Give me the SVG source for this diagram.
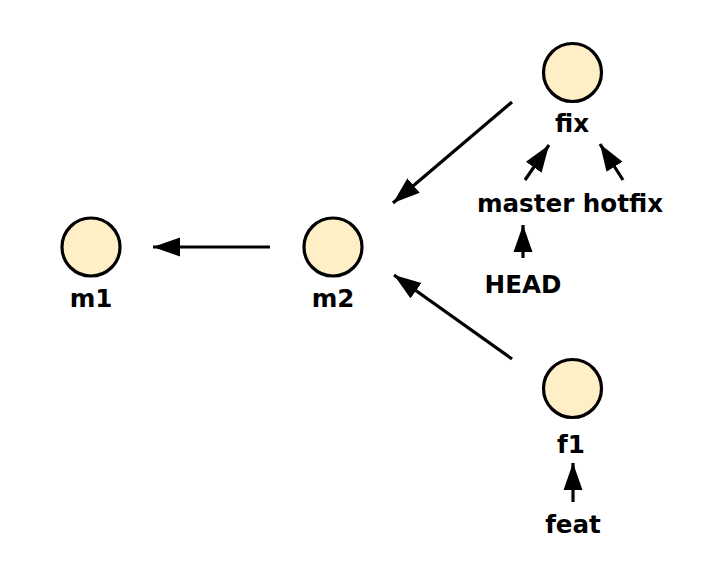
<svg xmlns="http://www.w3.org/2000/svg" width="714" height="569" viewBox="0 0 714 569">
<defs>
<style>
.node circle{fill:#feefc7;stroke:#000;stroke-width:3.2}
text{font-family:"DejaVu Sans",Verdana,sans-serif;font-weight:bold;font-size:24.6px;fill:#000;text-anchor:middle}
.edges line{stroke:#000;stroke-width:3.2;marker-end:url(#ah)}
</style>
<marker id="ah" markerUnits="userSpaceOnUse" viewBox="-27 -10 28 20" refX="0" refY="0" markerWidth="28" markerHeight="20" orient="auto">
<path d="M-27,-9.5 L0,0 L-27,9.5 z" fill="#000"/>
</marker>
</defs>
<rect width="714" height="569" fill="#fff"/>
<g class="edges">
<line x1="270" y1="247" x2="153" y2="247"/>
<line x1="512" y1="102" x2="393" y2="203"/>
<line x1="512" y1="359" x2="394" y2="275"/>
<line x1="525" y1="180" x2="549" y2="145"/>
<line x1="623" y1="180" x2="600" y2="144"/>
<line x1="523" y1="258" x2="523" y2="225"/>
<line x1="573" y1="502" x2="573" y2="463"/>
</g>
<g id="m1" class="node"><circle cx="91" cy="247" r="29"/><text x="91" y="307">m1</text></g>
<g id="m2" class="node"><circle cx="333" cy="247" r="29"/><text x="333" y="307">m2</text></g>
<g id="fix" class="node"><circle cx="572.5" cy="72.5" r="29"/><text x="572" y="132">fix</text></g>
<g id="f1" class="node"><circle cx="572.5" cy="388.5" r="29"/><text x="571" y="453">f1</text></g>
<g id="master-hotfix"><text x="570" y="212">master hotfix</text></g>
<g id="HEAD"><text x="523" y="293">HEAD</text></g>
<g id="feat"><text x="573" y="533">feat</text></g>
</svg>
